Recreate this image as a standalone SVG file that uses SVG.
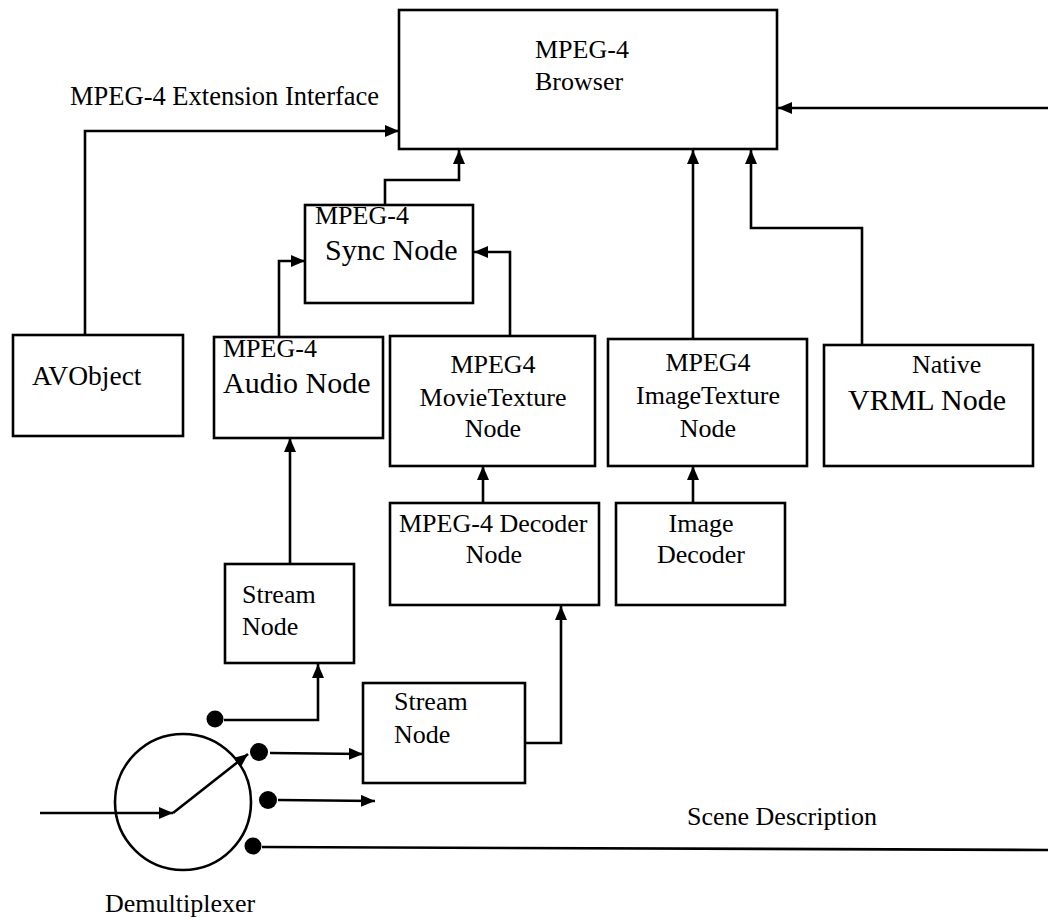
<svg xmlns="http://www.w3.org/2000/svg" width="1048" height="918" viewBox="0 0 1048 918">
  <style>
    .box { fill: #fff; stroke: #000; stroke-width: 2.6; }
    .ln { fill: none; stroke: #000; stroke-width: 2.6; }
    .arr { fill: none; stroke: #000; stroke-width: 2.6; marker-end: url(#head); }
    .dot { fill: #000; }
    text { font-family: "Liberation Serif", "Times New Roman", serif; font-size: 26px; fill: #000; }
    .big { font-size: 30px; }
    .mid { text-anchor: middle; }
  </style>
  <defs>
    <marker id="head" markerUnits="userSpaceOnUse" markerWidth="14" markerHeight="12" viewBox="0 0 14 12" refX="14" refY="6" orient="auto">
      <path d="M0,0 L14,6 L0,12 z" fill="#000"/>
    </marker>
  </defs>

  <!-- connectors -->
  <g id="connectors">
    <!-- AVObject to browser (extension interface) -->
    <polyline class="arr" points="85,335 85,131 399,131"/>
    <!-- sync node to browser -->
    <polyline class="arr" points="385,205 385,180 459,180 459,150"/>
    <!-- audio node to sync node -->
    <polyline class="arr" points="279,337 279,261 305,261"/>
    <!-- movie texture to sync node -->
    <polyline class="arr" points="510,336 510,252 474,252"/>
    <!-- image texture to browser -->
    <polyline class="arr" points="693,339 693,150"/>
    <!-- native VRML node to browser -->
    <polyline class="arr" points="862,345 862,228 751,228 751,150"/>
    <!-- scene description return into browser -->
    <polyline class="arr" points="1048,108 778,108"/>
    <!-- stream node to audio node -->
    <polyline class="arr" points="290,564 290,438"/>
    <!-- decoder to movie texture -->
    <polyline class="arr" points="483,503 483,466"/>
    <!-- image decoder to image texture -->
    <polyline class="arr" points="693,503 693,466"/>
    <!-- stream node 2 to decoder -->
    <polyline class="arr" points="525,743 561,743 561,606"/>
    <!-- demultiplexer outputs -->
    <polyline class="arr" points="224,720 318,720 318,664"/>
    <polyline class="arr" points="270,753 363,754"/>
    <polyline class="arr" points="278,800 375,801"/>
    <polyline class="ln" points="262,847 1048,850"/>
    <!-- demultiplexer input and switch -->
    <polyline class="arr" points="40,813 173,813"/>
    <polyline class="arr" points="173,813 248,754"/>
  </g>

  <g id="browser">
    <rect class="box" x="399" y="10" width="378" height="139"/>
    <text x="535" y="58">MPEG-4</text>
    <text x="535" y="90">Browser</text>
  </g>

  <g id="extension-label">
    <text x="70" y="105" style="font-size:26.5px">MPEG-4 Extension Interface</text>
  </g>

  <g id="sync-node">
    <rect class="box" x="305" y="205" width="168" height="98"/>
    <text x="315" y="224">MPEG-4</text>
    <text class="big" x="325" y="260">Sync Node</text>
  </g>

  <g id="avobject">
    <rect class="box" x="13" y="335" width="170" height="101"/>
    <text x="32" y="385" style="font-size:27.5px">AVObject</text>
  </g>

  <g id="audio-node">
    <rect class="box" x="214" y="337" width="169" height="101"/>
    <text x="223" y="357">MPEG-4</text>
    <text class="big" x="223" y="393">Audio Node</text>
  </g>

  <g id="movie-texture-node">
    <rect class="box" x="390" y="336" width="205" height="130"/>
    <text class="mid" x="493" y="373">MPEG4</text>
    <text class="mid" x="493" y="406">MovieTexture</text>
    <text class="mid" x="493" y="437">Node</text>
  </g>

  <g id="image-texture-node">
    <rect class="box" x="608" y="339" width="199" height="127"/>
    <text class="mid" x="708" y="371">MPEG4</text>
    <text class="mid" x="708" y="404">ImageTexture</text>
    <text class="mid" x="708" y="437">Node</text>
  </g>

  <g id="native-vrml-node">
    <rect class="box" x="824" y="345" width="209" height="121"/>
    <text x="912" y="373">Native</text>
    <text class="big" x="848" y="410">VRML Node</text>
  </g>

  <g id="decoder-node">
    <rect class="box" x="390" y="503" width="209" height="102"/>
    <text x="399" y="532">MPEG-4 Decoder</text>
    <text class="mid" x="494" y="563">Node</text>
  </g>

  <g id="image-decoder">
    <rect class="box" x="616" y="503" width="169" height="102"/>
    <text class="mid" x="701" y="532">Image</text>
    <text class="mid" x="701" y="563">Decoder</text>
  </g>

  <g id="stream-node-1">
    <rect class="box" x="225" y="564" width="129" height="99"/>
    <text x="242" y="603">Stream</text>
    <text x="242" y="635">Node</text>
  </g>

  <g id="stream-node-2">
    <rect class="box" x="363" y="683" width="162" height="100"/>
    <text x="394" y="710">Stream</text>
    <text x="394" y="743">Node</text>
  </g>

  <g id="demultiplexer">
    <circle class="ln" cx="183" cy="802" r="68"/>
    <circle class="dot" cx="215" cy="719" r="8.5"/>
    <circle class="dot" cx="259" cy="752" r="9"/>
    <circle class="dot" cx="268" cy="800" r="9"/>
    <circle class="dot" cx="253" cy="846" r="8.5"/>
    <text x="105" y="912">Demultiplexer</text>
  </g>

  <g id="scene-label">
    <text x="687" y="825">Scene Description</text>
  </g>
</svg>
